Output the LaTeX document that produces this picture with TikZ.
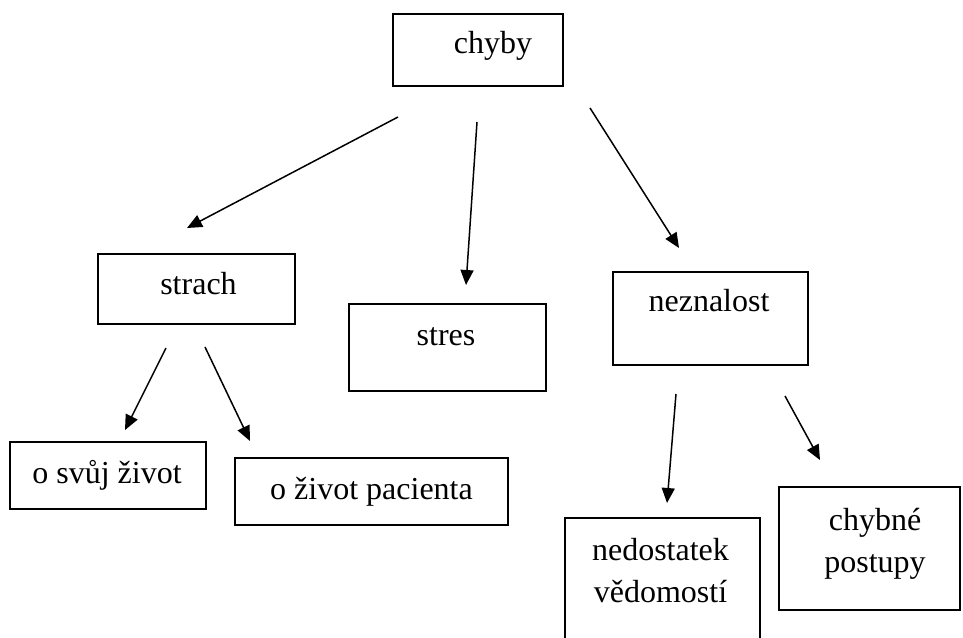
\documentclass[tikz,border=0pt]{standalone}
\usepackage{fontspec}
\setmainfont{Liberation Serif}
\usetikzlibrary{arrows.meta}
\begin{document}
\begin{tikzpicture}[x=1pt,y=-1pt,
  box/.style={draw, line width=1.6pt, inner sep=0pt},
  txt/.style={anchor=base, inner sep=0pt, font=\fontsize{32}{42}\selectfont},
  stack/.style={anchor=north, inner sep=0pt, align=center, font=\fontsize{32}{42}\selectfont},
  arr/.style={line width=1.5pt, -{Triangle[length=15pt,width=13pt]}}]
\clip (0,0) rectangle (963,637);
\fill[white] (0,0) rectangle (963,637);

% boxes
\node[box, minimum width=170pt, minimum height=72pt]  (chyby)    at (478,50) {};
\node[box, minimum width=197pt, minimum height=70pt]  (strach)   at (196.5,289) {};
\node[box, minimum width=197pt, minimum height=87pt]  (stres)    at (447.5,347.5) {};
\node[box, minimum width=195pt, minimum height=93pt]  (neznalost) at (710.5,318.5) {};
\node[box, minimum width=196pt, minimum height=67pt]  (svuj)     at (108,475.5) {};
\node[box, minimum width=273pt, minimum height=67pt]  (pacient)  at (371.5,491.5) {};
\node[box, minimum width=195pt, minimum height=142pt] (nedost)   at (662.5,589) {};
\node[box, minimum width=181pt, minimum height=123pt] (postupy)  at (869.5,548.5) {};

% labels
\node[txt] (tchyby)  at (493,53)    {chyby};
\node[txt] (tstrach) at (198.5,294) {strach};
\node[txt] (tstres)  at (446,345)   {stres};
\node[txt] (tnezn)   at (709,311)   {neznalost};
\node[txt] (tsvuj)   at (107,483)   {o svůj život};
\node[txt] (tpac)    at (371.5,499) {o život pacienta};
\node[txt] (tned1)   at (660.5,560) {nedostatek};
\node[txt] (tned2)   at (660.5,602) {vědomostí};
\node[txt] (tpos1)   at (875,530)   {chybné};
\node[txt] (tpos2)   at (875,572)   {postupy};

% arrow ends
\coordinate (a1s) at (398,117); \coordinate (a1e) at (187,228);
\coordinate (a2s) at (477,122); \coordinate (a2e) at (466,285);
\coordinate (a3s) at (590,108); \coordinate (a3e) at (679,248);
\coordinate (a4s) at (166,348); \coordinate (a4e) at (125,430);
\coordinate (a5s) at (205,347); \coordinate (a5e) at (250,441);
\coordinate (a6s) at (676,394); \coordinate (a6e) at (667,503);
\coordinate (a7s) at (785,396); \coordinate (a7e) at (820,460);

\draw[arr] (a1s) -- (a1e);
\draw[arr] (a2s) -- (a2e);
\draw[arr] (a3s) -- (a3e);
\draw[arr] (a4s) -- (a4e);
\draw[arr] (a5s) -- (a5e);
\draw[arr] (a6s) -- (a6e);
\draw[arr] (a7s) -- (a7e);
\end{tikzpicture}
\end{document}
